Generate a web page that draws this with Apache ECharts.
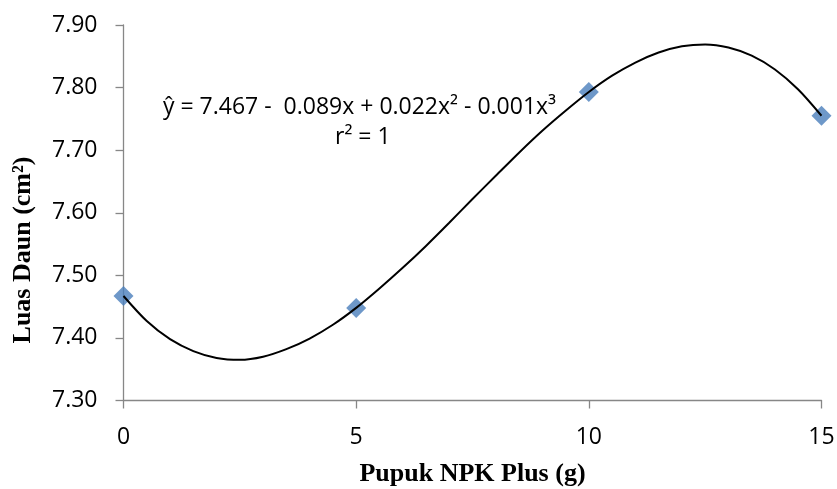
<!DOCTYPE html>
<html>
<head>
<meta charset="utf-8">
<script src="https://cdn.jsdelivr.net/npm/echarts@6/dist/echarts.min.js"></script>
<style>
  html, body { margin: 0; padding: 0; background: #fff; }
  #chart { width: 837px; height: 489px; }
</style>
</head>
<body>
<div id="chart"></div>
<script>
// observed points (Pupuk NPK Plus g vs Luas Daun cm2)
const doseX = [0, 5, 10, 15];
const leafArea = [7.467, 7.448, 7.793, 7.755];

// trend curve every half gram
const trendX = [0, 0.5, 1, 1.5, 2, 2.5, 3, 3.5, 4, 4.5, 5, 5.5, 6, 6.5, 7, 7.5,
  8, 8.5, 9, 9.5, 10, 10.5, 11, 11.5, 12, 12.5, 13, 13.5, 14, 14.5, 15];
const trendY = [7.467, 7.427, 7.398, 7.379, 7.368, 7.365, 7.370, 7.382,
  7.399, 7.421, 7.448, 7.479, 7.512, 7.547, 7.584, 7.622,
  7.659, 7.696, 7.731, 7.763, 7.793, 7.819, 7.840, 7.856,
  7.866, 7.869, 7.864, 7.851, 7.829, 7.797, 7.755];

const yTicks = [7.3, 7.4, 7.5, 7.6, 7.7, 7.8, 7.9];
const xTicks = [0, 5, 10, 15];

const labelFont = "'Open Sans', 'DejaVu Sans', sans-serif";
const titleFont = "'Liberation Serif', 'DejaVu Serif', serif";
const axisGray = "#878787";

const chart = echarts.init(document.getElementById("chart"));

chart.setOption({
  backgroundColor: "#fff",
  animation: false,
  grid: { left: 123.5, right: 15.5, top: 25, bottom: 88.5, outerBoundsMode: "none" },
  xAxis: {
    type: "value",
    min: xTicks[0],
    max: xTicks[xTicks.length - 1],
    interval: 5,
    name: "Pupuk NPK Plus (g)",
    nameLocation: "middle",
    nameGap: 61,
    nameTextStyle: { fontFamily: titleFont, fontWeight: "bold", fontSize: 26, color: "#000" },
    axisLine: { show: true, lineStyle: { color: axisGray, width: 1.3 } },
    axisTick: { show: true, length: 8, lineStyle: { color: axisGray, width: 1.3 } },
    axisLabel: { margin: 25, fontFamily: labelFont, fontSize: 23, color: "#000" },
    splitLine: { show: false }
  },
  yAxis: {
    type: "value",
    min: yTicks[0],
    max: yTicks[yTicks.length - 1],
    interval: 0.1,
    axisLine: { show: true, lineStyle: { color: axisGray, width: 1.3 } },
    axisTick: { show: true, length: 8, lineStyle: { color: axisGray, width: 1.3 } },
    axisLabel: {
      margin: 26,
      fontFamily: labelFont,
      fontSize: 23,
      color: "#000",
      formatter: v => v.toFixed(2)
    },
    splitLine: { show: false }
  },
  series: [
    {
      name: "Luas Daun",
      type: "scatter",
      data: doseX.map((x, i) => [x, leafArea[i]]),
      symbol: "diamond",
      symbolSize: 20,
      itemStyle: { color: "#4a7ebb" },
      z: 2
    },
    {
      name: "Trend",
      type: "line",
      data: trendX.map((x, i) => [x, trendY[i]]),
      smooth: 0.3,
      showSymbol: false,
      lineStyle: { color: "#000", width: 2 },
      z: 3
    }
  ],
  graphic: [
    {
      // y axis title sits lower than the plot middle in the original
      type: "text",
      x: 23,
      y: 250,
      rotation: Math.PI / 2,
      style: {
        text: "Luas Daun (cm²)",
        font: "bold 26px " + titleFont,
        fill: "#000",
        align: "center",
        verticalAlign: "middle"
      }
    },
    {
      type: "text",
      x: 163,
      y: 107,
      style: {
        text: "ŷ = 7.467 -  0.089x + 0.022x² - 0.001x³",
        font: "23px " + labelFont,
        fill: "#000",
        verticalAlign: "middle"
      }
    },
    {
      type: "text",
      x: 335,
      y: 137,
      style: {
        text: "r² = 1",
        font: "23px " + labelFont,
        fill: "#000",
        verticalAlign: "middle"
      }
    }
  ]
});
</script>
</body>
</html>
